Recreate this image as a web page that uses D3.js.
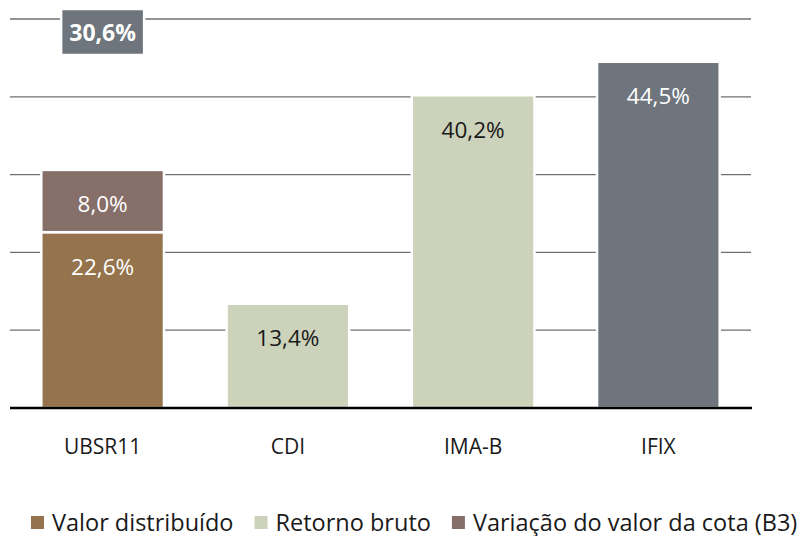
<!DOCTYPE html>
<html>
<head>
<meta charset="utf-8">
<script src="https://cdn.jsdelivr.net/npm/d3@7"></script>
<style>
  body { margin: 0; background: #fff; }
  svg text { font-family: "Open Sans", "Noto Sans", sans-serif; }
</style>
</head>
<body>
<svg id="chart"></svg>
<script>
// chart data
const categories = ["UBSR11", "CDI", "IMA-B", "IFIX"];
const valorDistribuido = [22.6, 0, 0, 0];
const variacaoCota = [8.0, 0, 0, 0];
const retornoBruto = [0, 13.4, 40.2, 44.5];
const yTicks = [0, 10, 20, 30, 40, 50];
const legendLabels = ["Valor distribuído", "Retorno bruto", "Variação do valor da cota (B3)"];

// colours
const cValor = "#94734d", cVariacao = "#866e69", cRetorno = "#cdd2bb", cIfix = "#6e757c";
const legendColors = [cValor, cRetorno, cVariacao];

const width = 805, height = 536;
const plot = {left: 10, right: 751, top: 19, bottom: 408};

const svg = d3.select("#chart")
    .attr("width", width)
    .attr("height", height);

const x = d3.scaleBand()
    .domain(categories)
    .range([plot.left, plot.right])
    .paddingInner(0.338)
    .paddingOuter(0.169);

const y = d3.scaleLinear().domain([0, 50]).range([plot.bottom, plot.top]);

// gridlines
svg.append("g")
  .selectAll("line")
  .data(yTicks.slice(1))
  .enter().append("line")
    .attr("x1", plot.left).attr("x2", plot.right)
    .attr("y1", d => y(d)).attr("y2", d => y(d))
    .attr("stroke", "#6f6f6f")
    .attr("stroke-width", 1.3);

// build stacked segments
var segs = [];
categories.forEach(function(c, i) {
  var base = 0;
  if (valorDistribuido[i]) {
    segs.push({cat: c, y0: base, y1: base + valorDistribuido[i], v: valorDistribuido[i], fill: cValor, txt: "#fff"});
    base += valorDistribuido[i];
  }
  if (variacaoCota[i]) {
    segs.push({cat: c, y0: base, y1: base + variacaoCota[i], v: variacaoCota[i], fill: cVariacao, txt: "#fff"});
    base += variacaoCota[i];
  }
  if (retornoBruto[i]) {
    var isIfix = c === "IFIX";
    segs.push({cat: c, y0: base, y1: base + retornoBruto[i], v: retornoBruto[i],
      fill: isIfix ? cIfix : cRetorno, txt: isIfix ? "#fff" : "#1a1a1a"});
    base += retornoBruto[i];
  }
});

const fmt = v => d3.format(".1f")(v).replace(".", ",") + "%";

svg.append("g")
  .selectAll("rect")
  .data(segs)
  .enter().append("rect")
    .attr("x", d => x(d.cat))
    .attr("y", d => y(d.y1))
    .attr("width", x.bandwidth())
    .attr("height", d => y(d.y0) - y(d.y1))
    .attr("fill", d => d.fill)
    .attr("stroke", "#fff")
    .attr("stroke-width", 2.5);

svg.append("g")
  .selectAll("text")
  .data(segs)
  .enter().append("text")
    .attr("x", d => x(d.cat) + x.bandwidth() / 2)
    .attr("y", d => y(d.y1) + 34)
    .attr("text-anchor", "middle")
    .attr("dominant-baseline", "central")
    .attr("font-size", 22.5)
    .attr("fill", d => d.txt)
    .text(d => fmt(d.v));

// total label above UBSR11
const total = valorDistribuido[0] + variacaoCota[0];
const cx0 = x(categories[0]) + x.bandwidth() / 2;
const boxW = 83, boxH = 46;
svg.append("rect")
    .attr("x", cx0 - boxW / 2)
    .attr("y", y(50) - 10)
    .attr("width", boxW)
    .attr("height", boxH)
    .attr("fill", cIfix)
    .attr("stroke", "#fff")
    .attr("stroke-width", 2.5);
svg.append("text")
    .attr("x", cx0)
    .attr("y", y(50) - 10 + boxH / 2)
    .attr("text-anchor", "middle")
    .attr("dominant-baseline", "central")
    .attr("font-size", 23)
    .attr("font-weight", "bold")
    .attr("fill", "#fff")
    .text(fmt(total));

// baseline axis
svg.append("line")
    .attr("x1", plot.left).attr("x2", plot.right + 1)
    .attr("y1", y(0)).attr("y2", y(0))
    .attr("stroke", "#000")
    .attr("stroke-width", 2.5);

// category labels
svg.append("g")
  .selectAll("text")
  .data(categories)
  .enter().append("text")
    .attr("x", d => x(d) + x.bandwidth() / 2)
    .attr("y", 446)
    .attr("text-anchor", "middle")
    .attr("dominant-baseline", "central")
    .attr("font-size", 21)
    .attr("fill", "#1a1a1a")
    .text(d => d);

// legend
var lx = 31;
var legend = svg.append("g");
legendLabels.forEach(function(lab, i) {
  legend.append("rect")
      .attr("x", lx).attr("y", 516)
      .attr("width", 13).attr("height", 13)
      .attr("fill", legendColors[i]);
  var t = legend.append("text")
      .attr("x", lx + 21)
      .attr("y", 521.5)
      .attr("dominant-baseline", "central")
      .attr("font-size", 23.5)
      .attr("fill", "#1a1a1a")
      .text(lab);
  lx += 21 + t.node().getComputedTextLength() + 21;
});
</script>
</body>
</html>
